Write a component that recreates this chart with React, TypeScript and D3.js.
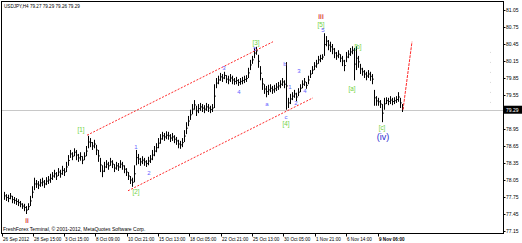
import React from "react";
import * as d3 from "d3";

const highs = [
  77.84, 77.80, 77.79, 77.82, 77.77, 77.75, 77.73, 77.71, 77.68, 77.64,
  77.63, 77.59, 77.64, 77.77, 77.94, 78.09, 78.05, 78.03, 78.07, 78.09,
  78.05, 78.10, 78.12, 78.16, 78.19, 78.23, 78.19, 78.26, 78.23, 78.30,
  78.26, 78.37, 78.49, 78.58, 78.54, 78.61, 78.58, 78.51, 78.54, 78.47,
  78.54, 78.65, 78.83, 78.79, 78.72, 78.76, 78.67, 78.58, 78.44, 78.31,
  78.37, 78.40, 78.37, 78.44, 78.40, 78.33, 78.37, 78.35, 78.40, 78.37,
  78.31, 78.26, 78.19, 78.12, 78.09, 78.31, 78.58, 78.51, 78.44, 78.47,
  78.44, 78.40, 78.46, 78.49, 78.58, 78.65, 78.70, 78.79, 78.86, 78.90,
  78.88, 78.91, 78.90, 78.86, 78.88, 78.84, 78.81, 78.76, 78.74, 78.79,
  78.93, 79.07, 79.18, 79.29, 79.39, 79.46, 79.36, 79.39, 79.41, 79.39,
  79.37, 79.41, 79.39, 79.36, 79.39, 79.74, 79.85, 79.89, 79.94, 79.92,
  79.96, 79.90, 79.89, 79.92, 79.89, 79.85, 79.87, 79.83, 79.85, 79.87,
  79.89, 79.90, 80.03, 80.17, 80.24, 80.38, 80.40, 80.26, 80.06, 79.85,
  79.74, 79.71, 79.73, 79.74, 79.71, 79.73, 79.76, 79.78, 79.81, 79.85,
  79.81, 80.13, 79.50, 79.57, 79.60, 79.64, 79.59, 79.67, 79.74, 79.81,
  79.85, 79.78, 79.89, 79.99, 80.06, 80.13, 80.17, 80.24, 80.26, 80.27,
  80.64, 80.59, 80.52, 80.49, 80.45, 80.38, 80.31, 80.34, 80.27, 80.24,
  80.17, 80.31, 80.34, 80.38, 80.41, 80.38, 80.41, 80.24, 80.10, 80.03,
  79.99, 79.96, 79.99, 79.96, 79.92, 79.64, 79.53, 79.50, 79.46, 79.39,
  79.50, 79.51, 79.50, 79.53, 79.50, 79.51, 79.53, 79.60, 79.50, 79.39,
];

const lows = [
  77.70, 77.68, 77.66, 77.71, 77.64, 77.63, 77.61, 77.59, 77.57, 77.54,
  77.50, 77.45, 77.52, 77.59, 77.73, 77.87, 77.91, 77.89, 77.93, 77.94,
  77.91, 77.96, 77.98, 78.00, 78.05, 78.09, 78.05, 78.12, 78.09, 78.14,
  78.12, 78.19, 78.30, 78.44, 78.40, 78.47, 78.40, 78.37, 78.39, 78.33,
  78.40, 78.47, 78.61, 78.63, 78.58, 78.61, 78.49, 78.37, 78.19, 78.10,
  78.19, 78.26, 78.23, 78.30, 78.26, 78.19, 78.23, 78.21, 78.26, 78.23,
  78.17, 78.12, 78.05, 77.98, 77.93, 78.01, 78.31, 78.33, 78.30, 78.33,
  78.30, 78.28, 78.31, 78.35, 78.40, 78.47, 78.54, 78.61, 78.69, 78.76,
  78.74, 78.77, 78.76, 78.72, 78.74, 78.70, 78.67, 78.61, 78.60, 78.63,
  78.72, 78.86, 79.00, 79.11, 79.21, 79.29, 79.18, 79.23, 79.27, 79.25,
  79.23, 79.27, 79.25, 79.23, 79.25, 79.32, 79.67, 79.74, 79.80, 79.78,
  79.83, 79.76, 79.74, 79.78, 79.74, 79.73, 79.74, 79.71, 79.73, 79.74,
  79.76, 79.78, 79.85, 79.99, 80.10, 80.20, 80.26, 80.03, 79.81, 79.64,
  79.57, 79.51, 79.55, 79.60, 79.57, 79.59, 79.62, 79.64, 79.67, 79.71,
  79.67, 79.29, 79.32, 79.39, 79.46, 79.50, 79.44, 79.53, 79.60, 79.67,
  79.71, 79.66, 79.74, 79.85, 79.92, 79.99, 80.03, 80.10, 80.13, 80.17,
  80.24, 80.41, 80.34, 80.31, 80.27, 80.20, 80.17, 80.20, 80.13, 80.06,
  79.97, 80.13, 80.20, 80.24, 80.27, 79.81, 79.99, 80.03, 79.92, 79.89,
  79.85, 79.81, 79.85, 79.80, 79.74, 79.36, 79.36, 79.36, 79.32, 79.07,
  79.29, 79.39, 79.37, 79.39, 79.37, 79.39, 79.41, 79.43, 79.32, 79.25,
];

const priceTicks = [81.05, 80.75, 80.45, 80.15, 79.85, 79.55, 79.25, 78.95, 78.65, 78.35, 78.05, 77.75, 77.45, 77.15];
const bidPrice = 79.29;

const timeLabels = [
  "26 Sep 2012", "28 Sep 15:00", "3 Oct 15:00", "8 Oct 09:00", "10 Oct 21:00", "15 Oct 13:00",
  "18 Oct 05:00", "22 Oct 21:00", "25 Oct 13:00", "30 Oct 05:00", "1 Nov 21:00", "6 Nov 14:00", "9 Nov 06:00",
];
const timeIndex = [-1, 14.5, 30, 45.5, 61.5, 77, 92.5, 108.5, 124, 139.5, 155.5, 171, 187];

// channel & projection lines: [index, price]
const upperChannel: [number, number][] = [[41.5, 78.84], [134.5, 80.49]];
const lowerChannel: [number, number][] = [[62, 77.86], [154.5, 79.50]];
const projection: [number, number][] = [[199.5, 79.29], [204, 80.49]];

// wave labels: [text, index, price]
const greenLabels: [string, number, number][] = [
  ["[1]", 38.5, 78.95], ["[2]", 66, 77.84], ["[3]", 126, 80.47], ["[4]", 141, 79.04],
  ["[5]", 158.5, 80.80], ["[a]", 174, 79.67], ["[b]", 177, 80.41], ["[c]", 189, 78.97],
];
const blueLabels: [string, number, number][] = [
  ["1", 66, 78.63], ["2", 72.5, 78.17], ["3", 110, 80.03], ["4", 117.5, 79.60], ["5", 125.5, 80.36],
  ["a", 131.5, 79.39], ["b", 140.5, 80.10], ["c", 141, 79.16],
  ["1", 143, 79.69], ["2", 146, 79.41], ["3", 147.5, 79.97], ["4", 150.5, 79.62], ["5", 159.5, 80.70],
];
const redLabels: [string, number, number][] = [["iii", 158.5, 80.94], ["ii", 11.5, 77.33]];
const majorLabels: [string, number, number][] = [["(iv)", 189.5, 78.81]];

const title = "USDJPY,H4  79.27 79.29 79.26 79.29";
const copyright = "FreshForex Terminal, © 2001-2012, MetaQuotes Software Corp.";

export default function App() {
  const W = 522, H = 243;
  const frame = { x0: 1.5, y0: 1.5, x1: 503.5, y1: 233.5 };
  const x = d3.scaleLinear().domain([0, 199]).range([4, 402]);
  const y = d3.scaleLinear().domain([77.15, 81.05]).range([231, 10]);
  const font = "'Liberation Sans', Arial, sans-serif";
  const line = d3.line<[number, number]>().x(d => x(d[0])).y(d => y(d[1]));
  const bidY = y(bidPrice);

  return (
    <svg width={W} height={H} style={{ position: "absolute", left: 0, top: 0, background: "#fff" }} fontFamily={font}>
      <rect x={0} y={0} width={W} height={H} fill="#fff" />
      {/* bid line */}
      <line x1={frame.x0} x2={frame.x1} y1={Math.round(bidY) + 0.5} y2={Math.round(bidY) + 0.5} stroke="#c8c8c8" strokeWidth={1} />
      {/* faint dotted vertical */}
      <line x1={490.5} x2={490.5} y1={y(80.31)} y2={bidY} stroke="#d8d8d8" strokeDasharray="1,9" />
      {/* bars */}
      {highs.map((h, i) => (
        <line key={i} x1={Math.round(x(i)) + 0.5} x2={Math.round(x(i)) + 0.5} y1={y(h)} y2={y(lows[i])} stroke="#000" strokeWidth={1} />
      ))}
      {highs.map((h, i) => (
        <line key={"t" + i} x1={Math.round(x(i))} x2={Math.round(x(i)) + 2} y1={y((h + lows[i]) / 2)} y2={y((h + lows[i]) / 2)} stroke="#000" strokeWidth={0.8} />
      ))}
      {/* channels */}
      <path d={line(upperChannel) || ""} stroke="#ff2a2a" strokeWidth={1} strokeDasharray="2,1.5" fill="none" />
      <path d={line(lowerChannel) || ""} stroke="#ff2a2a" strokeWidth={1} strokeDasharray="2,1.5" fill="none" />
      <path d={line(projection) || ""} stroke="#ff2a2a" strokeWidth={1} strokeDasharray="3,1" fill="none" />
      {/* labels */}
      {greenLabels.map(([t, i, p], k) => (
        <text key={"g" + k} x={x(i)} y={y(p)} fill="#6fd23c" fontSize={6.3} textAnchor="middle" dominantBaseline="central">{t}</text>
      ))}
      {blueLabels.map(([t, i, p], k) => (
        <text key={"b" + k} x={x(i)} y={y(p)} fill="#6262ff" fontSize={6} textAnchor="middle" dominantBaseline="central">{t}</text>
      ))}
      {redLabels.map(([t, i, p], k) => (
        <text key={"r" + k} x={x(i)} y={y(p)} fill="#d00000" fontSize={8} textAnchor="middle" dominantBaseline="central">{t}</text>
      ))}
      {majorLabels.map(([t, i, p], k) => (
        <text key={"m" + k} x={x(i)} y={y(p)} fill="#2a2ad0" fontSize={9} textAnchor="middle" dominantBaseline="central">{t}</text>
      ))}
      {/* frame */}
      <rect x={frame.x0} y={frame.y0} width={frame.x1 - frame.x0} height={frame.y1 - frame.y0} fill="none" stroke="#000" strokeWidth={1} />
      {/* title & copyright */}
      <text x={4} y={8} fontSize={4.6} fill="#000">{title}</text>
      <text x={3} y={231} fontSize={5} fill="#000">{copyright}</text>
      {/* price axis */}
      {priceTicks.map((p, k) => (
        <g key={"pt" + k}>
          <line x1={frame.x1} x2={frame.x1 + 2} y1={Math.round(y(p)) + 0.5} y2={Math.round(y(p)) + 0.5} stroke="#000" />
          {Math.abs(y(p) - bidY) > 6 && (
            <text x={506} y={y(p) + 1.8} fontSize={5} fill="#000">{p.toFixed(2)}</text>
          )}
        </g>
      ))}
      <rect x={504} y={bidY - 4} width={18} height={8} fill="#000" />
      <text x={506} y={bidY + 1.8} fontSize={5} fill="#fff">{bidPrice.toFixed(2)}</text>
      {/* time axis */}
      {timeLabels.map((t, k) => (
        <g key={"tl" + k}>
          <line x1={Math.round(x(timeIndex[k])) + 0.5} x2={Math.round(x(timeIndex[k])) + 0.5} y1={frame.y1} y2={frame.y1 + 3} stroke="#000" />
          <text x={x(timeIndex[k]) + 1} y={240.5} fontSize={4.6} fill="#000" fontWeight={k === timeLabels.length - 1 ? "bold" : "normal"}>{t}</text>
        </g>
      ))}
    </svg>
  );
}
